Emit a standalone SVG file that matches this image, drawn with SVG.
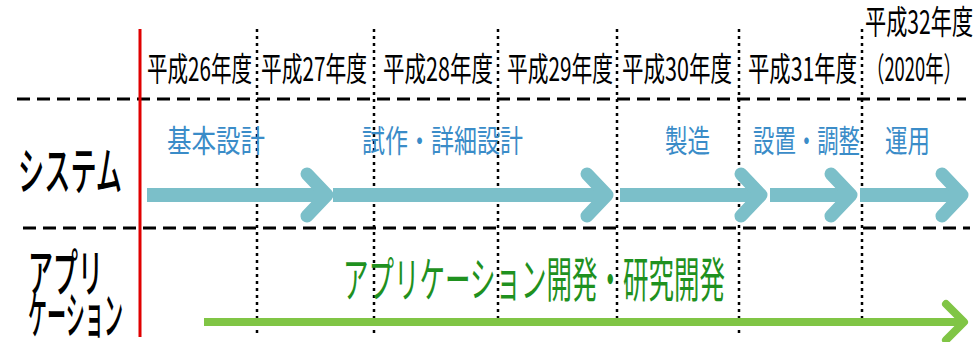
<svg xmlns="http://www.w3.org/2000/svg" xmlns:xlink="http://www.w3.org/1999/xlink" width="978" height="342" viewBox="0 0 978 342">
<style>
text{font-family:"Noto Sans CJK JP","Noto Sans CJK SC",sans-serif}
.yr{font-size:33px;fill:#000}
.row{font-size:42px;fill:#000;font-weight:500}
.blu{font-size:31px;fill:#3A8CC8}
.grn{font-size:48px;fill:#1F911F}
.hd{stroke:#000;stroke-width:3;stroke-dasharray:13 7;fill:none}
.vd{stroke:#000;stroke-width:2.5;stroke-dasharray:3 4;fill:none}
.bbar{fill:#7BBFC9}
.bch{fill:none;stroke:#7BBFC9;stroke-width:13;stroke-linecap:round;stroke-linejoin:round}
.gbar{fill:#80C545}
.gch{fill:none;stroke:#80C545;stroke-width:8;stroke-linecap:round;stroke-linejoin:round}
</style>
<defs>
<path id="bchev" class="bch" d="M-26,174 L-6,195 L-26,216"/>
<path id="gchev" class="gch" d="M-22,304 L-4,322 L-22,340"/>
</defs>
<rect width="978" height="342" fill="#fff"/>
<g id="grid">
<line class="hd" x1="17" y1="99" x2="966" y2="99"/>
<line class="hd" x1="23" y1="228" x2="970" y2="228"/>
<line class="vd" x1="257" y1="29" x2="257" y2="333"/>
<line class="vd" x1="374" y1="29" x2="374" y2="333"/>
<line class="vd" x1="498" y1="29" x2="498" y2="324"/>
<line class="vd" x1="617" y1="29" x2="617" y2="324"/>
<line class="vd" x1="739" y1="29" x2="739" y2="333"/>
<line class="vd" x1="862" y1="29" x2="862" y2="324"/>
<line x1="140" y1="29" x2="140" y2="337" stroke="#E00000" stroke-width="3"/>
</g>
<g id="years">
<text class="yr" transform="translate(147,81) scale(0.64,1)" textLength="164" lengthAdjust="spacingAndGlyphs">平成26年度</text>
<text class="yr" transform="translate(261,81) scale(0.64,1)" textLength="165.6" lengthAdjust="spacingAndGlyphs">平成27年度</text>
<text class="yr" transform="translate(383,81) scale(0.64,1)" textLength="171.9" lengthAdjust="spacingAndGlyphs">平成28年度</text>
<text class="yr" transform="translate(507,81) scale(0.64,1)" textLength="165.6" lengthAdjust="spacingAndGlyphs">平成29年度</text>
<text class="yr" transform="translate(622,81) scale(0.64,1)" textLength="171.9" lengthAdjust="spacingAndGlyphs">平成30年度</text>
<text class="yr" transform="translate(748,81) scale(0.64,1)" textLength="170.3" lengthAdjust="spacingAndGlyphs">平成31年度</text>
<text class="yr" transform="translate(865,34) scale(0.64,1)" textLength="168.8" lengthAdjust="spacingAndGlyphs">平成32年度</text>
<text class="yr" transform="translate(866,81) scale(0.56,1)" textLength="171.4" lengthAdjust="spacingAndGlyphs">（2020年）</text>
</g>
<g id="row-system">
<text class="row" transform="translate(18,190) scale(0.6,1.22)" textLength="173.3" lengthAdjust="spacingAndGlyphs">システム</text>
</g>
<g id="row-app">
<text class="row" transform="translate(28,292) scale(0.45,1.22)" textLength="166.7" lengthAdjust="spacingAndGlyphs">アプリ</text>
<text class="row" transform="translate(28,334) scale(0.45,1.22)" textLength="211.1" lengthAdjust="spacingAndGlyphs">ケーション</text>
</g>
<g id="phase-labels">
<text class="blu" transform="translate(167,152) scale(0.77,1)" textLength="127.3" lengthAdjust="spacingAndGlyphs">基本設計</text>
<text class="blu" transform="translate(362,152) scale(0.77,1)" textLength="209.1" lengthAdjust="spacingAndGlyphs">試作・詳細設計</text>
<text class="blu" transform="translate(665,152) scale(0.77,1)" textLength="58.4" lengthAdjust="spacingAndGlyphs">製造</text>
<text class="blu" transform="translate(753,152) scale(0.77,1)" textLength="139" lengthAdjust="spacingAndGlyphs">設置・調整</text>
<text class="blu" transform="translate(885,152) scale(0.77,1)" textLength="58.4" lengthAdjust="spacingAndGlyphs">運用</text>
<text class="grn" transform="translate(343,297) scale(0.53,1)" textLength="720.8" lengthAdjust="spacingAndGlyphs">アプリケーション開発・研究開発</text>
</g>
<g id="connectors">
<rect class="bbar" x="147" y="188" width="182" height="14"/>
<use xlink:href="#bchev" transform="translate(333,0)"/>
<rect class="bbar" x="333" y="188" width="276" height="14"/>
<use xlink:href="#bchev" transform="translate(613,0)"/>
<rect class="bbar" x="620" y="188" width="143" height="14"/>
<use xlink:href="#bchev" transform="translate(767,0)"/>
<rect class="bbar" x="770" y="188" width="83" height="14"/>
<use xlink:href="#bchev" transform="translate(857,0)"/>
<rect class="bbar" x="860" y="188" width="104" height="14"/>
<use xlink:href="#bchev" transform="translate(968,0)"/>
<rect class="gbar" x="204" y="318" width="759" height="8"/>
<use xlink:href="#gchev" transform="translate(968,0)"/>
</g>
</svg>
